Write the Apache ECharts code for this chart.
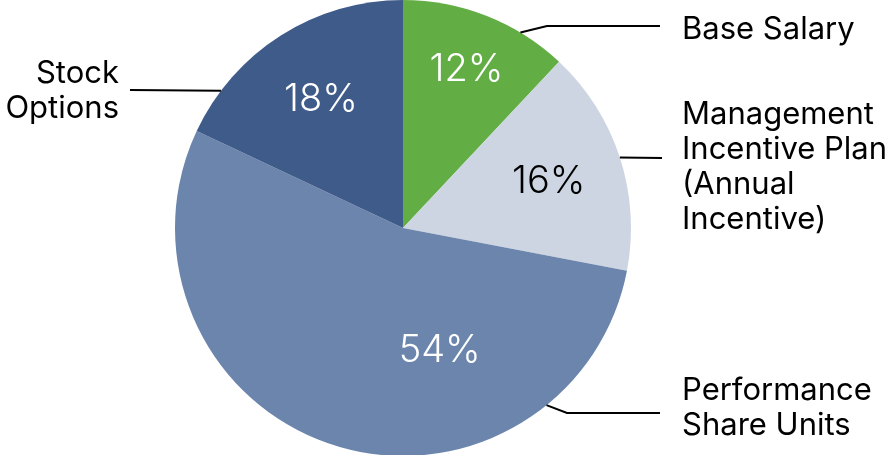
<!DOCTYPE html>
<html><head><meta charset="utf-8">
<script src="https://cdn.jsdelivr.net/npm/echarts@6/dist/echarts.min.js"></script>
<style>html,body{margin:0;padding:0;background:#fff}#c{width:895px;height:455px}</style>
</head><body><div id="c"></div>
<script>
const categories = ['Base Salary', 'Management\nIncentive Plan\n(Annual\nIncentive)', 'Performance\nShare Units', 'Stock\nOptions'];
const values = [12, 16, 54, 18];
const colors = ['#62ae44', '#cdd5e2', '#6b85ad', '#3e5b8a'];
const pctTextColors = ['#ffffff', '#000000', '#ffffff', '#ffffff'];

const CX = 403, CY = 228, R = 228;
// [angle from top (deg), radius fraction]
const pctPlace = [[21.8, 0.75], [72.5, 0.67], [163.3, 0.56], [327.5, 0.67]];
// name label anchors and leader lines
const namePlace = [
  { x: 682, y: 30, align: 'left', edgeAngle: 31, pts: [[547, 26], [660, 26]] },
  { x: 682, y: 167, align: 'left', edgeAngle: 72, pts: [[662, 158]] },
  { x: 682, y: 408, align: 'left', edgeAngle: 141, pts: [[567, 413], [660, 413]] },
  { x: 119, y: 91, align: 'right', edgeAngle: 307, pts: [[130, 90]] }
];
function polar(a, rf) {
  const t = a * Math.PI / 180;
  return [CX + R * rf * Math.sin(t), CY - R * rf * Math.cos(t)];
}
const font = 'Inter, Roboto, sans-serif';
const chart = echarts.init(document.getElementById('c'), null, { renderer: 'canvas' });
const base = {
  type: 'pie', center: [CX, CY], radius: R, startAngle: 90, clockwise: true,
  animation: false, emphasis: { disabled: true }, avoidLabelOverlap: false
};
chart.setOption({
  backgroundColor: '#fff',
  series: [
    Object.assign({}, base, {
      data: values.map((v, i) => ({ value: v, name: categories[i], itemStyle: { color: colors[i] }, label: { color: pctTextColors[i] } })),
      itemStyle: { borderWidth: 0 },
      label: { show: true, position: 'inside', formatter: '{c}%', fontFamily: font, fontWeight: 300, fontSize: 38 },
      labelLine: { show: false },
      labelLayout: function (p) {
        const pl = pctPlace[p.dataIndex];
        const xy = polar(pl[0], pl[1]);
        return { x: xy[0], y: xy[1], align: 'center', verticalAlign: 'middle' };
      }
    }),
    Object.assign({}, base, {
      silent: true, z: 3,
      data: values.map((v, i) => ({ value: v, name: categories[i] })),
      itemStyle: { color: 'rgba(0,0,0,0)', borderWidth: 0 },
      label: { show: true, position: 'outside', formatter: '{b}', fontFamily: font, fontSize: 31, color: '#000', lineHeight: 35 },
      labelLine: { show: true, length: 20, length2: 20, smooth: false, lineStyle: { color: '#000', width: 2 } },
      labelLayout: function (p) {
        const n = namePlace[p.dataIndex];
        const pts = [polar(n.edgeAngle, 1)].concat(n.pts);
        if (pts.length === 2) pts.splice(1, 0, pts[1]);
        return { x: n.x, y: n.y, align: n.align, verticalAlign: 'middle', labelLinePoints: pts };
      }
    })
  ]
});
</script></body></html>
